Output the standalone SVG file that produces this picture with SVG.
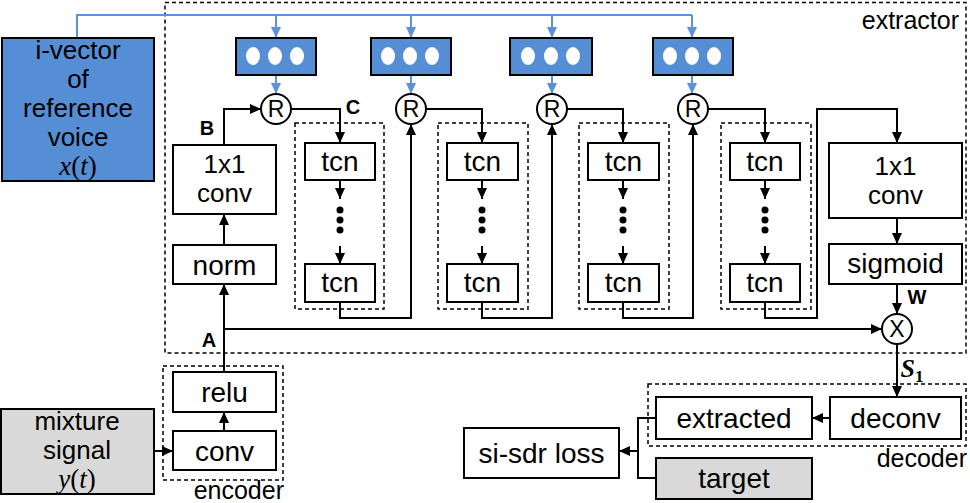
<svg xmlns="http://www.w3.org/2000/svg" width="970" height="503" viewBox="0 0 970 503">
<defs>
<marker id="ah" markerWidth="11" markerHeight="10" refX="11" refY="5" orient="auto" markerUnits="userSpaceOnUse"><path d="M0,0 L11,5 L0,10 z" fill="#000"/></marker>
<marker id="bh" markerWidth="11" markerHeight="10" refX="11" refY="5" orient="auto" markerUnits="userSpaceOnUse"><path d="M0,0 L11,5 L0,10 z" fill="#5b93db"/></marker>
<style>
.box{fill:#fff;stroke:#000;stroke-width:2}
.gray{fill:#d9d9d9;stroke:#000;stroke-width:2}
.blue{fill:#558ed5;stroke:#000;stroke-width:2}
.dash{fill:none;stroke:#000;stroke-width:1.5;stroke-dasharray:4 3}
.ln{fill:none;stroke:#000;stroke-width:2}
.arr{fill:none;stroke:#000;stroke-width:2;marker-end:url(#ah)}
.barr{fill:none;stroke:#5b93db;stroke-width:2;marker-end:url(#bh)}
.bln{fill:none;stroke:#5b93db;stroke-width:2}
text{font-family:"Liberation Sans",Arial,sans-serif;fill:#000}
.t{font-size:28px;text-anchor:middle}
.t2{font-size:26px;text-anchor:middle}
.s{font-size:23px;text-anchor:middle}
.fr{font-size:25px;text-anchor:end}
.lab{font-size:20px;font-weight:bold;text-anchor:middle}
.m{font-family:"Liberation Serif","Times New Roman",serif;font-size:27px;text-anchor:middle}
.dot{fill:#fff}
</style>
</defs>

<g id="extractor-frame">
<rect class="dash" x="165" y="2.5" width="801" height="350.5"/>
<text class="fr" x="959" y="29">extractor</text>
</g>
<g id="encoder-frame">
<rect class="dash" x="163" y="366" width="120" height="114"/>
<text class="fr" x="284" y="499">encoder</text>
</g>
<g id="decoder-frame">
<rect class="dash" x="648" y="384" width="318" height="62"/>
<text class="fr" x="967" y="467">decoder</text>
</g>
<g id="tcn-frames">
<rect class="dash" x="295" y="123" width="89" height="186"/>
<rect class="dash" x="438" y="123" width="90" height="186"/>
<rect class="dash" x="579" y="123" width="90" height="186"/>
<rect class="dash" x="721" y="123" width="90" height="186"/>
</g>

<g id="connectors">
<path class="bln" d="M77,38 V15 H692"/>
<path class="barr" d="M276,15 V38"/>
<path class="barr" d="M411,15 V38"/>
<path class="barr" d="M552,15 V38"/>
<path class="barr" d="M692,15 V38"/>
<path class="barr" d="M276,75 V94"/>
<path class="barr" d="M411,75 V94"/>
<path class="barr" d="M552,75 V94"/>
<path class="barr" d="M692,75 V94"/>
<path class="arr" d="M224,245 V214"/>
<path class="arr" d="M224,145 V109 H261"/>
<path class="arr" d="M291,109 H340 V143"/>
<path class="arr" d="M426,109 H482 V143"/>
<path class="arr" d="M567,109 H623 V143"/>
<path class="arr" d="M708,109 H765 V143"/>
<path class="arr" d="M340,180 V199"/>
<path class="arr" d="M340,246 V264"/>
<path class="arr" d="M482,180 V199"/>
<path class="arr" d="M482,246 V264"/>
<path class="arr" d="M623,180 V199"/>
<path class="arr" d="M623,246 V264"/>
<path class="arr" d="M765,180 V199"/>
<path class="arr" d="M765,246 V264"/>
<path class="arr" d="M340,302 V318 H411 V124"/>
<path class="arr" d="M482,302 V318 H552 V124"/>
<path class="arr" d="M623,302 V318 H693 V124"/>
<path class="arr" d="M765,302 V318 H817 V109 H897 V143"/>
<path class="arr" d="M897,218 V244"/>
<path class="arr" d="M897,284 V314"/>
<path class="arr" d="M224,372 V284"/>
<path class="arr" d="M224,329 H882"/>
<path class="arr" d="M897,344 V397"/>
<path class="arr" d="M224,431 V412"/>
<path class="arr" d="M154,451 H173"/>
<path class="arr" d="M830,418 H812"/>
<path class="ln" d="M656,418 H638 V478 H656"/>
<path class="arr" d="M638,451 H619"/>
</g>

<g id="dots">
<circle cx="340" cy="210" r="3.5"/><circle cx="340" cy="220" r="3.5"/><circle cx="340" cy="230" r="3.5"/>
<circle cx="482" cy="210" r="3.5"/><circle cx="482" cy="220" r="3.5"/><circle cx="482" cy="230" r="3.5"/>
<circle cx="623" cy="210" r="3.5"/><circle cx="623" cy="220" r="3.5"/><circle cx="623" cy="230" r="3.5"/>
<circle cx="765" cy="210" r="3.5"/><circle cx="765" cy="220" r="3.5"/><circle cx="765" cy="230" r="3.5"/>
</g>

<g id="ivector">
<rect class="blue" x="2" y="38" width="152" height="143"/>
<text class="t2" x="78" y="59">i-vector</text>
<text class="t2" x="78" y="88">of</text>
<text class="t2" x="78" y="117">reference</text>
<text class="t2" x="78" y="146">voice</text>
<text class="m" x="78" y="175"><tspan font-style="italic">x</tspan>(<tspan font-style="italic">t</tspan>)</text>
</g>

<g id="emb1"><rect class="blue" x="236" y="38" width="80" height="37"/><ellipse class="dot" cx="253" cy="56" rx="7" ry="9"/><ellipse class="dot" cx="275" cy="56" rx="7" ry="9"/><ellipse class="dot" cx="297" cy="56" rx="7" ry="9"/></g>
<g id="emb2"><rect class="blue" x="371" y="38" width="80" height="37"/><ellipse class="dot" cx="388" cy="56" rx="7" ry="9"/><ellipse class="dot" cx="410" cy="56" rx="7" ry="9"/><ellipse class="dot" cx="432" cy="56" rx="7" ry="9"/></g>
<g id="emb3"><rect class="blue" x="510" y="38" width="82" height="37"/><ellipse class="dot" cx="528" cy="56" rx="7" ry="9"/><ellipse class="dot" cx="551" cy="56" rx="7" ry="9"/><ellipse class="dot" cx="573" cy="56" rx="7" ry="9"/></g>
<g id="emb4"><rect class="blue" x="653" y="38" width="80" height="37"/><ellipse class="dot" cx="670" cy="56" rx="7" ry="9"/><ellipse class="dot" cx="692" cy="56" rx="7" ry="9"/><ellipse class="dot" cx="714" cy="56" rx="7" ry="9"/></g>

<g id="R1"><circle class="box" cx="276" cy="109" r="15"/><text class="s" x="276" y="117">R</text></g>
<g id="R2"><circle class="box" cx="411" cy="109" r="15"/><text class="s" x="411" y="117">R</text></g>
<g id="R3"><circle class="box" cx="552" cy="109" r="15"/><text class="s" x="552" y="117">R</text></g>
<g id="R4"><circle class="box" cx="693" cy="109" r="15"/><text class="s" x="693" y="117">R</text></g>

<g id="conv1x1a"><rect class="box" x="173" y="145" width="103" height="69"/><text class="t2" x="224.5" y="173">1x1</text><text class="t2" x="224.5" y="202">conv</text></g>
<g id="norm"><rect class="box" x="173" y="245" width="103" height="39"/><text class="t" x="224.5" y="275">norm</text></g>

<g id="tcn1a"><rect class="box" x="305" y="143" width="70" height="37"/><text class="t" x="340" y="171">tcn</text></g>
<g id="tcn1b"><rect class="box" x="305" y="264" width="70" height="38"/><text class="t" x="340" y="292">tcn</text></g>
<g id="tcn2a"><rect class="box" x="447" y="143" width="71" height="37"/><text class="t" x="482.5" y="171">tcn</text></g>
<g id="tcn2b"><rect class="box" x="447" y="264" width="71" height="38"/><text class="t" x="482.5" y="292">tcn</text></g>
<g id="tcn3a"><rect class="box" x="588" y="143" width="71" height="37"/><text class="t" x="623.5" y="171">tcn</text></g>
<g id="tcn3b"><rect class="box" x="588" y="264" width="71" height="38"/><text class="t" x="623.5" y="292">tcn</text></g>
<g id="tcn4a"><rect class="box" x="730" y="143" width="70" height="37"/><text class="t" x="765" y="171">tcn</text></g>
<g id="tcn4b"><rect class="box" x="730" y="264" width="70" height="38"/><text class="t" x="765" y="292">tcn</text></g>

<g id="conv1x1b"><rect class="box" x="829" y="143" width="133" height="75"/><text class="t2" x="895.5" y="175">1x1</text><text class="t2" x="895.5" y="204">conv</text></g>
<g id="sigmoid"><rect class="box" x="829" y="244" width="133" height="40"/><text class="t" x="895.5" y="273">sigmoid</text></g>
<g id="mult"><circle class="box" cx="897" cy="329" r="15"/><text class="s" x="897" y="337">X</text></g>

<g id="relu"><rect class="box" x="173" y="372" width="103" height="40"/><text class="t" x="224.5" y="402">relu</text></g>
<g id="conv"><rect class="box" x="173" y="431" width="103" height="39"/><text class="t" x="224.5" y="461">conv</text></g>
<g id="mixture">
<rect class="gray" x="1" y="409" width="153" height="85"/>
<text class="t2" x="77" y="430">mixture</text>
<text class="t2" x="77" y="459">signal</text>
<text class="m" x="77" y="488"><tspan font-style="italic">y</tspan>(<tspan font-style="italic">t</tspan>)</text>
</g>

<g id="deconv"><rect class="box" x="830" y="397" width="131" height="42"/><text class="t" x="895.5" y="428">deconv</text></g>
<g id="extracted"><rect class="box" x="656" y="397" width="156" height="42"/><text class="t" x="734" y="428">extracted</text></g>
<g id="sisdr"><rect class="box" x="464" y="428" width="155" height="50"/><text class="t" x="541.5" y="463">si-sdr loss</text></g>
<g id="target"><rect class="gray" x="656" y="458" width="156" height="41"/><text class="t" x="734" y="488">target</text></g>

<g id="labels">
<text class="lab" x="207" y="135">B</text>
<text class="lab" x="353" y="114">C</text>
<text class="lab" x="209" y="347">A</text>
<text class="lab" x="917" y="304">W</text>
<text x="912" y="377" style="font-family:'Liberation Serif',serif;font-size:26px;font-weight:bold;font-style:italic;text-anchor:middle">S<tspan font-size="17" font-style="normal" dy="5">1</tspan></text>
</g>
</svg>
